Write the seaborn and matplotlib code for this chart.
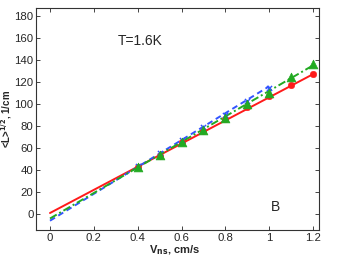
import numpy as np
import pandas as pd
import matplotlib
matplotlib.use("Agg")
import matplotlib.pyplot as plt
import seaborn as sns

# data
red_x = [0.4, 0.5, 0.6, 0.7, 0.8, 0.9, 1.0, 1.1, 1.2]
red_y = [43, 53, 65, 75, 86, 97, 107, 117, 127]
green_x = [0.4, 0.5, 0.6, 0.7, 0.8, 0.9, 1.0, 1.1, 1.2]
green_y = [43, 54, 65, 76, 87, 100, 110, 124, 136]
blue_x = [0.4, 0.5, 0.6, 0.7, 0.8, 0.9, 1.0]
blue_y = [44, 55, 67, 79, 90, 103, 114]
# fit lines (endpoints)
red_fit_x = [0.0, 1.2]
red_fit_y = [1, 127]
green_fit_x = [0.0, 1.2]
green_fit_y = [-4, 135]
blue_fit_x = [0.0, 1.0]
blue_fit_y = [-6, 116]
xticks = [0, 0.2, 0.4, 0.6, 0.8, 1, 1.2]
xticklabels = ["0", "0.2", "0.4", "0.6", "0.8", "1", "1.2"]
yticks = [0, 20, 40, 60, 80, 100, 120, 140, 160, 180]

sns.set_theme(style="ticks")
plt.rcParams['font.family'] = ['Liberation Sans', 'DejaVu Sans']

fig = plt.figure(figsize=(3.38, 2.66), dpi=100)
ax = fig.add_axes([0.107, 0.135, 0.837, 0.835])

sns.lineplot(x=red_fit_x, y=red_fit_y, ax=ax, color="#ff1a1a", lw=1.4, linestyle="-")
sns.lineplot(x=blue_fit_x, y=blue_fit_y, ax=ax, color="#3355ff", lw=1.4, linestyle=(0, (3, 2)))
sns.lineplot(x=green_fit_x, y=green_fit_y, ax=ax, color="#22aa22", lw=1.4, linestyle=(0, (4, 1.5, 1, 1.5)))

sns.scatterplot(x=red_x, y=red_y, ax=ax, color="#ff1a1a", marker="o", s=22, edgecolor="#ff1a1a", zorder=3)
sns.scatterplot(x=blue_x, y=blue_y, ax=ax, color="#3355ff", marker="x", s=14, linewidth=1.0, zorder=3)
sns.scatterplot(x=green_x, y=green_y, ax=ax, color="#22aa22", marker="^", s=40, edgecolor="#22aa22", zorder=4)

ax.set_xlim(-0.063, 1.227)
ax.set_ylim(-14.5, 187)
ax.set_xticks(xticks)
ax.set_xticklabels(xticklabels)
ax.set_yticks(yticks)
ax.tick_params(direction="in", top=True, right=True, labelsize=8.2, length=3, width=0.6, pad=2)
for s in ax.spines.values():
    s.set_linewidth(0.8)
    s.set_color("#333333")

ax.set_xlabel(r"V$_{\mathbf{ns}}$, cm/s", fontsize=8, fontweight="bold")
ax.set_ylabel(r"<L>$^{\mathbf{1/2}}$, 1/cm", fontsize=7, fontweight="bold")
ax.yaxis.set_label_coords(-0.077, 0.5)
ax.xaxis.set_label_coords(0.49, -0.062)
ax.text(0.41, 157, "T=1.6K", fontsize=10, ha="center", va="center")
ax.text(1.03, 6, "B", fontsize=10, ha="center", va="center")

fig.savefig("out.png", dpi=100)
